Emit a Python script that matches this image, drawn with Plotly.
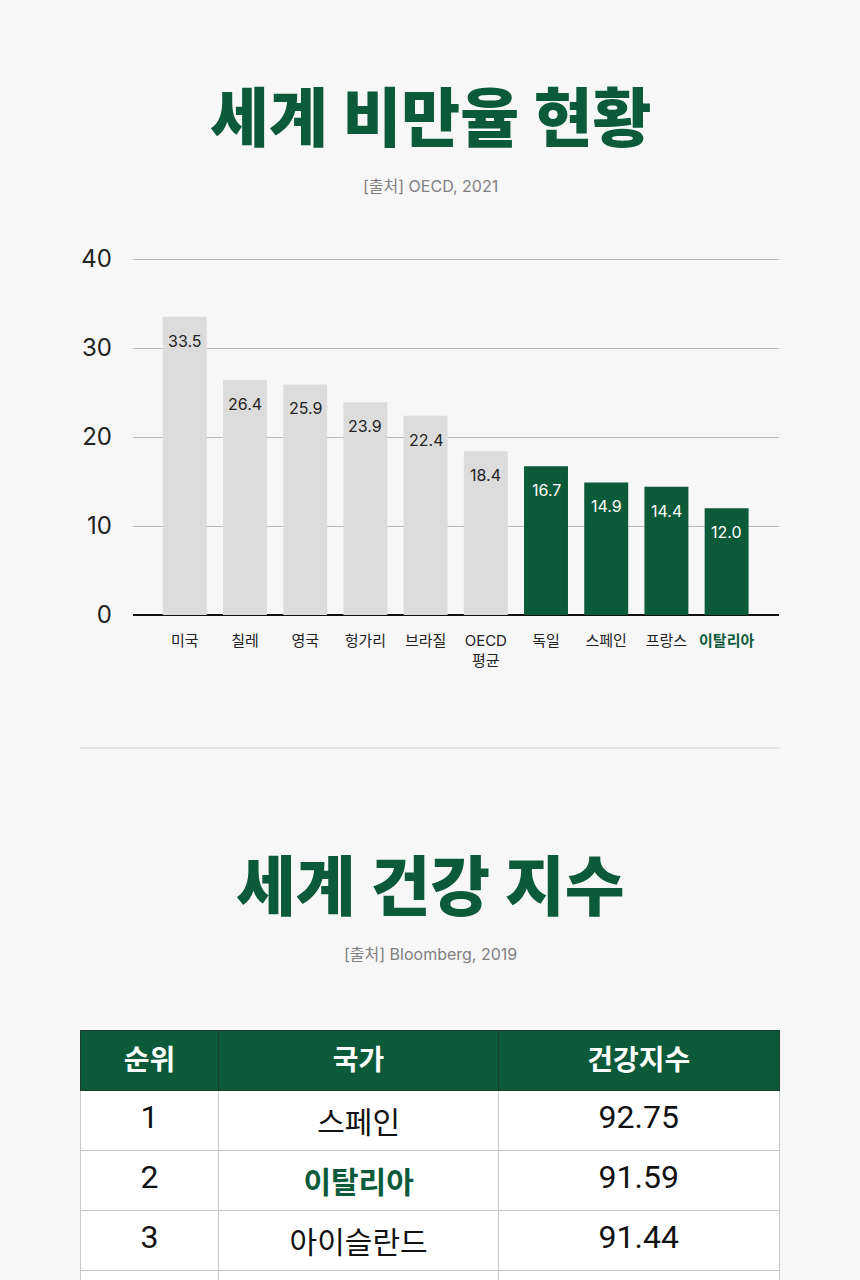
import plotly.graph_objects as go

W, H = 860, 1280
GREEN = "#0b5a3a"
GRAY_BAR = "#dcdcdc"
BG = "#f7f7f7"
KR = "Noto Sans CJK KR"
UI = "Inter, 'Noto Sans CJK KR'"

# ---- chart data ----
countries = ["미국", "칠레", "영국", "헝가리", "브라질", "OECD<br>평균", "독일", "스페인", "프랑스", "이탈리아"]
obesity = [33.5, 26.4, 25.9, 23.9, 22.4, 18.4, 16.7, 14.9, 14.4, 12.0]
highlight = [False, False, False, False, False, False, True, True, True, True]
y_ticks = [0, 10, 20, 30, 40]

# ---- table data ----
table_header = ["순위", "국가", "건강지수"]
rank = ["1", "2", "3"]
health_country = ["스페인", "이탈리아", "아이슬란드"]
health_index = ["92.75", "91.59", "91.44"]
featured_country = "이탈리아"


def py(px):
    return 1 - px / H


def pxx(px):
    return px / W


x_pos = list(range(len(countries)))
bar_colors = [GREEN if h else GRAY_BAR for h in highlight]

ticktext = []
for c in countries:
    if c == featured_country:
        ticktext.append(f"<span style='color:{GREEN}'><b>{c}</b></span>")
    else:
        ticktext.append(c)

fig = go.Figure()
fig.add_trace(go.Bar(
    x=x_pos, y=obesity, width=0.73,
    marker=dict(color=bar_colors, line=dict(width=0)),
    hoverinfo="skip", showlegend=False,
))

# value labels inside bars
for xi, v, h in zip(x_pos, obesity, highlight):
    fig.add_annotation(
        x=xi, y=v, xref="x", yref="y", text=f"{v:.1f}", showarrow=False,
        yanchor="middle", yshift=-24,
        font=dict(family=UI, size=16, color="#ffffff" if h else "#222222"),
    )

y_top = 40.4  # small headroom so plotly keeps the 40 gridline (it drops lines at the edge)
fig.update_xaxes(
    domain=[pxx(133), pxx(779)], range=[-0.86, 9.87], autorange=False, automargin=False,
    tickvals=x_pos, ticktext=ticktext, showgrid=False, zeroline=False, showline=False,
    ticks="", ticklabelstandoff=15,
    tickfont=dict(family=UI, size=15, color="#222222"), fixedrange=True,
)
fig.update_yaxes(
    domain=[py(615), py(615 - 356 * y_top / 40)], range=[0, y_top], autorange=False,
    automargin=False, tickvals=y_ticks,
    showgrid=True, gridcolor="#b8b8b8", gridwidth=1,
    zeroline=True, zerolinecolor="#111111", zerolinewidth=1.5,
    showline=False, ticks="", ticklabelstandoff=20,
    tickfont=dict(family=UI, size=24, color="#222222"), fixedrange=True,
)

# table (a trailing blank row continues past the bottom edge as in the reference)
country_cells = [f"<b>{c}</b>" if c == featured_country else f"<span>{c}</span>" for c in health_country]
rank_cells = [f"<span>{r}</span>" for r in rank]
index_cells = [f"<span>{v}</span>" for v in health_index]
country_colors = [GREEN if c == featured_country else "#111111" for c in health_country]
n = len(rank) + 1
fig.add_trace(go.Table(
    domain=dict(x=[pxx(80), pxx(780)], y=[0, py(1030)]),
    columnwidth=[139, 280, 281],
    header=dict(
        values=[f"<b>{t}</b>" for t in table_header],
        fill_color=GREEN, line=dict(color="#1d3a2c", width=1),
        font=dict(family=KR, size=28, color="white"), align="center", height=60,
    ),
    cells=dict(
        values=[rank_cells + [""], country_cells + [""], index_cells + [""]],
        fill_color="white", line=dict(color="#c8c8c8", width=1),
        font=dict(family=["Roboto", KR, "Roboto"], size=[32, 30, 32],
                  color=[["#111111"] * n, country_colors + ["#111111"], ["#111111"] * n]),
        align="center", height=59,
    ),
))

# titles and sources
fig.add_annotation(x=0.5, y=py(113), xref="paper", yref="paper", text="세계 비만율 현황",
                   showarrow=False, xanchor="center", yanchor="middle",
                   font=dict(family=KR, size=64, color=GREEN, weight=900))
fig.add_annotation(x=0.5, y=py(186), xref="paper", yref="paper", text="[출처] OECD, 2021",
                   showarrow=False, xanchor="center", yanchor="middle",
                   font=dict(family=UI, size=16, color="#808080"))
fig.add_annotation(x=0.5, y=py(882), xref="paper", yref="paper", text="세계 건강 지수",
                   showarrow=False, xanchor="center", yanchor="middle",
                   font=dict(family=KR, size=65, color=GREEN, weight=900))
fig.add_annotation(x=0.5, y=py(954), xref="paper", yref="paper", text="[출처] Bloomberg, 2019",
                   showarrow=False, xanchor="center", yanchor="middle",
                   font=dict(family=UI, size=16, color="#808080"))

fig.add_shape(type="line", xref="paper", yref="paper", x0=pxx(80), x1=pxx(780),
              y0=py(748), y1=py(748), line=dict(color="#cfcfcf", width=1))

fig.update_layout(
    width=W, height=H, margin=dict(l=0, r=0, t=0, b=0, pad=0, autoexpand=False),
    paper_bgcolor=BG, plot_bgcolor=BG, bargap=0.27,
    font=dict(family=KR),
)

fig.write_html("out.html", config={"displayModeBar": False})
